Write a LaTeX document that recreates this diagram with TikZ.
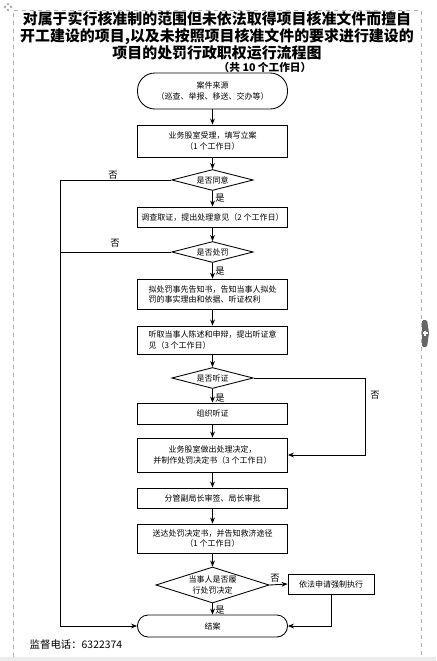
\documentclass[tikz,border=0pt]{standalone}
\usepackage{fontspec}
\setmainfont{Noto Sans CJK SC}
\usetikzlibrary{arrows.meta,positioning,shapes.geometric}

\begin{document}
\begin{tikzpicture}[
      x=0.75pt, y=-0.75pt,
      >={Stealth[length=4.5pt,width=3.6pt]},
      proc/.style={rectangle, draw, line width=0.65pt, minimum width=112.5pt,
        align=center, inner sep=1pt, font=\fontsize{6}{8.2}\selectfont},
      term/.style={proc, rounded corners=#1},
      cond/.style={diamond, draw, line width=0.65pt, aspect=3.6, inner sep=0pt,
        minimum width=61pt, minimum height=15.75pt, align=center,
        font=\fontsize{6}{8.2}\selectfont},
      yesno/.style={font=\fontsize{7}{8}\selectfont},
      flow/.style={->, line width=0.65pt},
  ]

      \useasboundingbox (0,0) rectangle (436,661);

      % Moldura da página
      \fill[black!8] (0,657) rectangle (436,661);
      \draw[black!30, dashed] (13,657) |- (421,10) -- (421,657);
      \foreach \dx/\dy in {0/-3,3/0,0/3,-3/0}
          \fill[black!35] (8+\dx,7+\dy) circle (1pt);
      \fill[black!60, rounded corners=1pt] (422,320) -- (427,320) -- (429,333) -- (427,347) -- (422,347) -- cycle;
      \draw[white, line width=0.8pt] (422.5,333) -- (427.5,333) (425,330.5) -- (425,335.5);

      % Título
      \node[font=\fontsize{11.2}{12.8}\selectfont\bfseries, align=center] (title) at (217,36)
          {对属于实行核准制的范围但未依法取得项目核准文件而擅自\\
           开工建设的项目,以及未按照项目核准文件的要求进行建设的\\
           项目的处罚行政职权运行流程图};
      \node[font=\fontsize{8}{10}\selectfont\bfseries] (days) at (265,67) {（共 10 个工作日）};

      % Caixas do fluxo
      \node[term=13pt, minimum height=27pt] (src) at (212.5,91) {案件来源\\（巡查、举报、移送、交办等）};
      \node[proc, minimum height=24pt] (accept) at (212.5,141) {业务股室受理，填写立案\\（1 个工作日）};
      \node[cond] (agree) at (212.5,180) {是否同意};
      \node[proc, minimum height=15pt] (probe) at (212.5,217) {调查取证，提出处理意见（2 个工作日）};
      \node[cond] (punish) at (212.5,252) {是否处罚};
      \node[proc, minimum height=23pt, align=left] (notice) at (212.5,294.5) {拟处罚事先告知书，告知当事人拟处\\罚的事实理由和依据、听证权利};
      \node[proc, minimum height=21pt, align=left] (plea) at (212.5,340) {听取当事人陈述和申辩，提出听证意\\见（3 个工作日）};
      \node[cond] (hear) at (212.5,378) {是否听证};
      \node[proc, minimum height=15.75pt] (hold) at (212.5,413.5) {组织听证};
      \node[proc, minimum height=25.5pt] (decide) at (212.5,455) {业务股室做出处理决定，\\并制作处罚决定书（3 个工作日）};
      \node[proc, minimum height=15pt] (sign) at (212.5,498) {分管副局长审签、局长审批};
      \node[proc, minimum height=21.75pt] (serve) at (212.5,538.5) {送达处罚决定书，并告知救济途径\\（1 个工作日）};
      \node[cond, minimum width=85pt, minimum height=27pt, aspect=3.1] (comply) at (212.5,585) {当事人是否履\\行处罚决定};
      \node[term=8pt, minimum height=16.5pt] (close) at (212.5,626) {结案};
      \node[proc, minimum width=64.5pt, minimum height=15pt] (enforce) at (331,584) {依法申请强制执行};

      % Setas da coluna principal
      \foreach \a/\b in {src/accept,accept/agree,agree/probe,probe/punish,punish/notice,
          notice/plea,plea/hear,hear/hold,hold/decide,decide/sign,sign/serve,serve/comply,comply/close}
          \draw[flow] (\a) -- (\b);

      % Ramos laterais
      \coordinate (lb) at (60,626);
      \coordinate (rc) at (365,455);
      \draw[flow] (agree.west) -| (lb) -- (close.west);
      \draw[line width=0.65pt] (punish.west) -- (punish.west -| lb);
      \draw[flow] (hear.east) -| (rc) -- (decide.east);
      \draw[flow] (comply.east) -- (enforce.west);
      \draw[flow] (enforce.south) |- (close.east);

      % Rótulos sim / não
      \node[yesno] (no1) at (113,175) {否};
      \node[yesno] (no2) at (115,243) {否};
      \node[yesno] (no3) at (375,395) {否};
      \node[yesno] (no4) at (275,578) {否};
      \node[yesno] (yes1) at (220,198) {是};
      \node[yesno] (yes2) at (220,271) {是};
      \node[yesno] (yes3) at (220,398) {是};
      \node[yesno] (yes4) at (220,610) {是};

      % Telefone
      \node[anchor=west, font=\fontsize{7.8}{10}\selectfont] (tel) at (25,645) {监督电话：6322374};

  \end{tikzpicture}
\end{document}
